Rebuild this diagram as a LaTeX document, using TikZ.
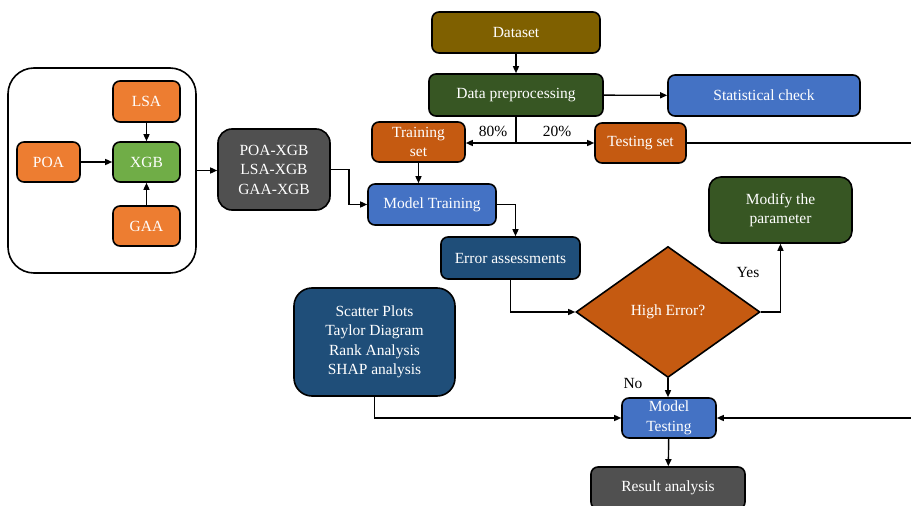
\documentclass[tikz,border=0pt]{standalone}
\usepackage{fontspec}
\setmainfont{Liberation Serif}
\usetikzlibrary{shapes.geometric,arrows.meta}
\definecolor{orangeA}{HTML}{ED7D31}
\definecolor{orangeB}{HTML}{C55A11}
\definecolor{greenA}{HTML}{70AD47}
\definecolor{greenB}{HTML}{375623}
\definecolor{blueA}{HTML}{4472C4}
\definecolor{blueB}{HTML}{1F4E79}
\definecolor{brownA}{HTML}{7F6000}
\definecolor{grayA}{HTML}{505050}

\begin{document}
\begin{tikzpicture}[x=1pt,y=1pt]
\tikzstyle{every node}+=[font=\fontsize{15.5}{19.5}\selectfont]
\tikzstyle{box}=[draw=black, line width=1.6pt, rounded corners=7pt, text=white, align=center, inner sep=2pt]
\tikzstyle{link}=[line width=1.4pt, -{Triangle[length=7pt,width=6pt]}]
\useasboundingbox (0,0) rectangle (911,-506);
\node [draw=black, line width=1.6pt, rounded corners=26pt, minimum width=188, minimum height=205] (frame) at (102,-170.5) {};
\node [box, fill=orangeA, minimum width=67, minimum height=41] (lsa) at (146.5,-101.5) {LSA};
\node [box, fill=orangeA, minimum width=63, minimum height=40] (poa) at (48.5,-162) {POA};
\node [box, fill=greenA, minimum width=67, minimum height=40] (xgb) at (146.5,-162) {XGB};
\node [box, fill=orangeA, minimum width=67, minimum height=40] (gaa) at (146.5,-226) {GAA};
\node [box, fill=grayA, rounded corners=14pt, minimum width=112, minimum height=81] (hybrid) at (274,-169.5) {POA-XGB\\LSA-XGB\\GAA-XGB};
\node [box, fill=brownA, minimum width=168, minimum height=41] (data) at (516,-32.5) {Dataset};
\node [box, fill=greenB, minimum width=174, minimum height=42] (prep) at (516,-95) {Data preprocessing};
\node [box, fill=blueA, minimum width=192, minimum height=41] (stat) at (764,-95.5) {Statistical check};
\node [box, fill=orangeB, minimum width=93, minimum height=40] (train) at (418.5,-142) {Training\\set};
\node [box, fill=orangeB, minimum width=91, minimum height=40] (test) at (640.5,-143) {Testing set};
\node [box, fill=blueA, minimum width=128, minimum height=41] (fit) at (432,-204.5) {Model Training};
\node [box, fill=blueB, minimum width=139, minimum height=42] (err) at (510.5,-258) {Error assessments};
\node [diamond, draw=black, line width=1.6pt, fill=orangeB, text=white, minimum width=184, minimum height=131, inner sep=0pt] (check) at (668,-312) {High Error?};
\node [box, fill=greenB, rounded corners=12pt, minimum width=143, minimum height=66] (modify) at (780.5,-210) {Modify the\\parameter};
\node [box, fill=blueB, rounded corners=18pt, minimum width=161, minimum height=108] (plots) at (374.5,-342) {Scatter Plots\\Taylor Diagram\\Rank Analysis\\SHAP analysis};
\node [box, fill=blueA, minimum width=94, minimum height=40] (testing) at (669,-418) {Model\\Testing};
\node [box, fill=grayA, minimum width=154, minimum height=42] (result) at (668,-488) {Result analysis};
\node (p80) at (493,-131) {80\%};
\node (p20) at (557,-131) {20\%};
\node (yes) at (748,-272) {Yes};
\node (no) at (633,-383) {No};
\coordinate (split) at (prep.south |- test.west);
\draw [link] (lsa) -- (xgb);
\draw [link] (poa) -- (xgb);
\draw [link] (gaa) -- (xgb);
\draw [link] (frame.east) -- (frame.east -| hybrid.west);
\draw [link] (hybrid.east) -- ++(18,0) |- (fit.west);
\draw [link] (data) -- (prep);
\draw [link] (prep) -- (stat);
\draw [line width=1.4pt] (prep.south) -- (split);
\draw [link] (split) -- (split -| train.east);
\draw [link] (split) -- (test);
\draw [link] (train.south) -- (train.south |- fit.north);
\draw [link] (fit.east) -| ([xshift=5]err.north);
\draw [link] (err.south) |- (check.west);
\draw [link] (check.east) -| (modify.south);
\draw [link] (check.south) -- (check.south |- testing.north);
\draw [link] (plots.south) |- (testing.west);
\draw [link] (test.east) -- ++(240,0) |- (testing.east);
\draw [link] (testing) -- (result);
\end{tikzpicture}
\end{document}
